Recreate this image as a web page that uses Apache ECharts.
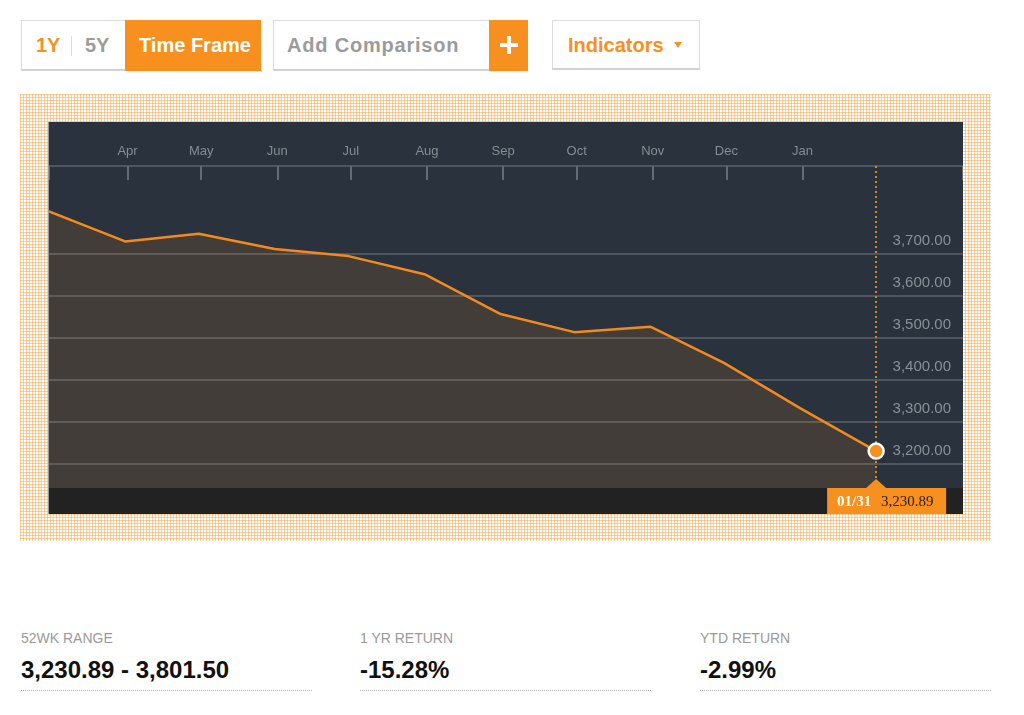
<!DOCTYPE html>
<html>
<head>
<meta charset="utf-8">
<script src="https://cdn.jsdelivr.net/npm/echarts@6/dist/echarts.min.js"></script>
<style>
html,body{margin:0;padding:0;background:#fff;width:1024px;height:715px;overflow:hidden;
  font-family:"Liberation Sans",Arial,Helvetica,sans-serif;}
.box{position:absolute;box-sizing:border-box;border:1px solid #dcdcdc;border-bottom:2px solid #d2d2d2;background:#fff;}
.t{position:absolute;top:0;line-height:49px;font-size:20px;font-weight:bold;white-space:nowrap;}
.or{color:#f7901e;}
.gr{color:#9b9b9b;}
.frame{position:absolute;left:20px;top:94px;width:971px;height:447px;background-color:#fff;
  background-image:linear-gradient(90deg,rgba(247,144,30,0.42) 1px,transparent 1px),
                   linear-gradient(rgba(247,144,30,0.42) 1px,transparent 1px);
  background-size:3px 3px;}
#chart{position:absolute;left:49px;top:122px;width:914px;height:392px;}
.edge{position:absolute;left:48px;top:122px;width:1px;height:392px;background:#9a9a9a;}
.lab{position:absolute;top:630px;line-height:16px;font-size:14px;color:#9a9a9a;}
.val{position:absolute;top:656px;line-height:28px;font-size:24px;font-weight:bold;color:#111;}
.ul{position:absolute;top:690px;height:0;width:291px;border-top:1px dotted #b5b5b5;}
</style>
</head>
<body>
<!-- top controls -->
<div class="box" style="left:21px;top:20px;width:240px;height:51px;">
  <div class="t or" style="left:14px;">1Y</div>
  <div style="position:absolute;left:49px;top:15px;width:1px;height:20px;background:#dddddd;"></div>
  <div class="t gr" style="left:63px;">5Y</div>
  <div style="position:absolute;left:103px;top:-1px;width:136px;height:51px;background:#f7901e;"></div>
  <div class="t" style="left:117px;color:#fff;">Time Frame</div>
</div>
<div class="box" style="left:273px;top:20px;width:255px;height:51px;">
  <div class="t gr" style="left:13px;letter-spacing:0.8px;">Add Comparison</div>
  <div style="position:absolute;left:215px;top:-1px;width:39px;height:51px;background:#f7901e;"></div>
  <div style="position:absolute;left:226px;top:22px;width:18px;height:4px;background:#fff;"></div>
  <div style="position:absolute;left:233px;top:15px;width:4px;height:18px;background:#fff;"></div>
</div>
<div class="box" style="left:552px;top:20px;width:148px;height:50px;">
  <div class="t or" style="left:15px;line-height:48px;">Indicators</div>
  <div style="position:absolute;left:121px;top:21px;width:0;height:0;border-left:4px solid transparent;border-right:4px solid transparent;border-top:6px solid #f7901e;"></div>
</div>

<div class="frame"></div>
<div id="chart"></div>
<div class="edge"></div>

<div class="lab" style="left:21px;">52WK RANGE</div>
<div class="val" style="left:21px;" id="rangeVal"></div>
<div class="ul" style="left:21px;"></div>
<div class="lab" style="left:360px;">1 YR RETURN</div>
<div class="val" style="left:360px;" id="yrVal"></div>
<div class="ul" style="left:360px;"></div>
<div class="lab" style="left:700px;">YTD RETURN</div>
<div class="val" style="left:700px;" id="ytdVal"></div>
<div class="ul" style="left:700px;"></div>

<script>
// ---- data ----
const dates = ['2022-02-28','2022-03-31','2022-04-30','2022-05-31','2022-06-30','2022-07-31',
               '2022-08-31','2022-09-30','2022-10-31','2022-11-30','2022-12-31','2023-01-31'];
const closes = [3801.50, 3730, 3748, 3712, 3695, 3652, 3557, 3514, 3527, 3441, 3333, 3230.89];
const monthTicks = ['2022-04-01','2022-05-01','2022-06-01','2022-07-01','2022-08-01','2022-09-01',
                    '2022-10-01','2022-11-01','2022-12-01','2023-01-01'];
const monthLabels = ['Apr','May','Jun','Jul','Aug','Sep','Oct','Nov','Dec','Jan'];
const priceTicks = [3200, 3300, 3400, 3500, 3600, 3700];
const rangeLow = 3230.89, rangeHigh = 3801.50;
const oneYearReturn = '-15.28%';
const ytdReturn = '-2.99%';

function ts(s){const p=s.split('-').map(Number);return new Date(p[0],p[1]-1,p[2]).getTime();}
function fmt(v){return Number(v).toLocaleString('en-US',{minimumFractionDigits:2,maximumFractionDigits:2});}

document.getElementById('rangeVal').textContent = fmt(rangeLow)+' - '+fmt(rangeHigh);
document.getElementById('yrVal').textContent = oneYearReturn;
document.getElementById('ytdVal').textContent = ytdReturn;

const tickTs = monthTicks.map(ts);
const xMin = ts(dates[0]);
const xMax = new Date(2023,2,7,9,36).getTime();
const lastTs = ts(dates[dates.length-1]);
const lastVal = closes[closes.length-1];
const FONT = '"Liberation Sans", Arial, sans-serif';

const chart = echarts.init(document.getElementById('chart'), null, {renderer:'canvas'});
chart.setOption({
  backgroundColor:'#29323d',
  animation:false,
  grid:[{left:0,right:0,top:44,bottom:26},{left:0,right:0,top:132,bottom:50}],
  xAxis:[{
    type:'value', gridIndex:0, position:'top', min:xMin, max:xMax, scale:true,
    axisLine:{show:true,lineStyle:{color:'#4f565f',width:2}},
    axisTick:{show:true,inside:true,length:14,lineStyle:{color:'#656b72',width:2},
      customValues:[xMin].concat(tickTs,[xMax])},
    axisLabel:{show:true,customValues:tickTs,color:'#868c93',fontSize:13,fontFamily:FONT,margin:8,
      showMinLabel:true,showMaxLabel:true,
      formatter:function(v){const i=tickTs.indexOf(+v);return i>=0?monthLabels[i]:'';}},
    splitLine:{show:false}
  },{
    type:'value', gridIndex:1, min:xMin, max:xMax, scale:true, show:false
  }],
  yAxis:[{
    type:'value', gridIndex:0, min:3143, max:3909.5, scale:true, show:false
  },{
    type:'value', gridIndex:1, position:'right',
    min:priceTicks[0], max:priceTicks[priceTicks.length-1], interval:100,
    axisLine:{show:false}, axisTick:{show:false},
    splitLine:{show:true,lineStyle:{color:'#4e555e',width:2}},
    axisLabel:{inside:true,margin:12,verticalAlign:'bottom',padding:[0,0,6,0],
      color:'#8a9097',fontSize:15,fontFamily:FONT,showMinLabel:true,showMaxLabel:true,
      formatter:function(v){return fmt(v);}}
  }],
  series:[{
    type:'line', xAxisIndex:0, yAxisIndex:0, z:3,
    data:dates.map(function(d,i){return [ts(d),closes[i]];}),
    symbol:'none',
    lineStyle:{color:'#f28a1e',width:2.5},
    areaStyle:{color:'rgba(242,138,40,0.19)',origin:'start'},
    markLine:{silent:true,symbol:'none',label:{show:false},
      lineStyle:{color:'#c98b22',width:2,type:[2,3]},
      data:[{xAxis:lastTs}]}
  },{
    type:'scatter', xAxisIndex:0, yAxisIndex:0, z:6,
    data:[[lastTs,lastVal]], symbol:'circle', symbolSize:15,
    itemStyle:{color:'#f7901e',borderColor:'#ffffff',borderWidth:2.5,opacity:1}
  }]
});

const p = chart.convertToPixel({xAxisIndex:0,yAxisIndex:0},[lastTs,lastVal]);
const W = 914, H = 392, footY = 366;
const d = new Date(lastTs);
const dLabel = String(d.getMonth()+1).padStart(2,'0')+'/'+String(d.getDate()).padStart(2,'0');
chart.setOption({
  graphic:[
    {type:'rect',z:100,silent:true,shape:{x:0,y:footY,width:W,height:H-footY},style:{fill:'#222222'}},
    {type:'rect',z:101,silent:true,shape:{x:p[0]-49,y:footY,width:119,height:H-footY},style:{fill:'#f7901e'}},
    {type:'polygon',z:101,silent:true,shape:{points:[[p[0]-10,footY],[p[0],footY-9],[p[0]+10,footY]]},style:{fill:'#f7901e'}},
    {type:'text',z:102,silent:true,x:p[0]-39,y:footY+14,
      style:{text:dLabel,fill:'#ffffff',font:'bold 15px "Liberation Serif", "DejaVu Serif", serif',verticalAlign:'middle',align:'left'}},
    {type:'text',z:102,silent:true,x:p[0]+5,y:footY+14,
      style:{text:fmt(lastVal),fill:'#2a1d10',font:'15px "Liberation Serif", "DejaVu Serif", serif',verticalAlign:'middle',align:'left'}}
  ]
});
</script>
</body>
</html>
